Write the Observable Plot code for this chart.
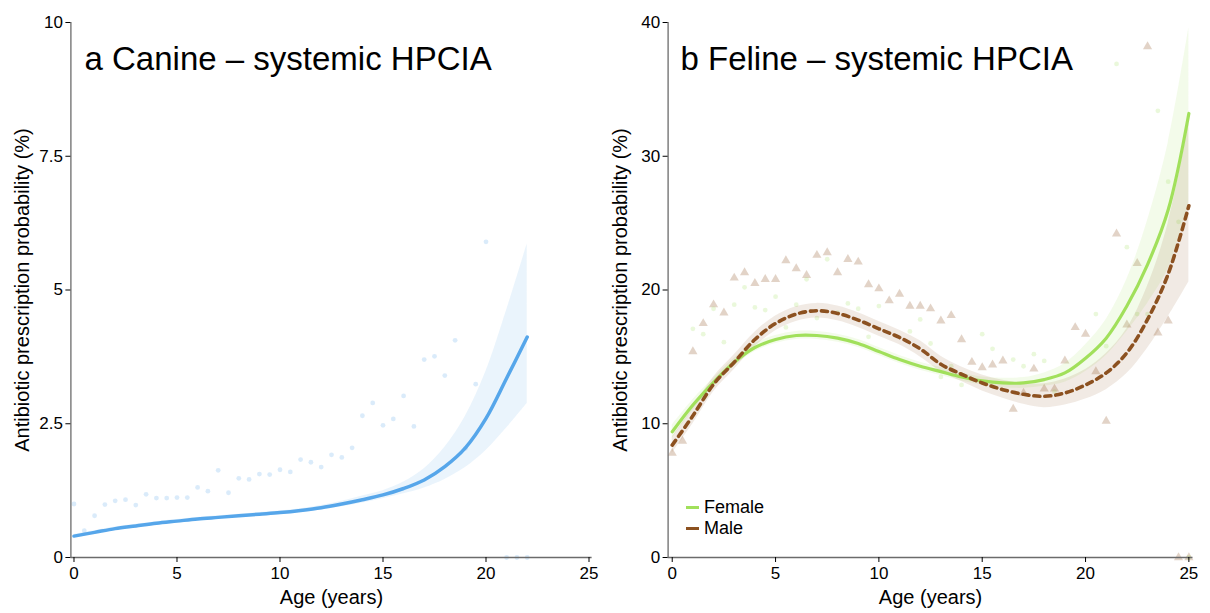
<!DOCTYPE html>
<html><head><meta charset="utf-8">
<script src="https://cdn.jsdelivr.net/npm/d3@7"></script>
<script src="https://cdn.jsdelivr.net/npm/@observablehq/plot@0.6"></script>
<style>
body{margin:0;background:#fff;font-family:"Liberation Sans",Arial,Helvetica,sans-serif;}
#wrap{display:flex;width:1210px;height:613px;position:relative;overflow:hidden}
#wrap svg{display:block}
.legend{position:absolute;left:686px;top:497px;font-size:18px;line-height:21px;color:#000}
.legend div{display:flex;align-items:center;height:21px}
.legend span.sw{display:inline-block;width:13px;height:0;margin-right:5px}
</style></head><body><div id="wrap"></div>
<script>
// ---------- Canine (panel a) ----------
const canineTitle = "a Canine \u2013 systemic HPCIA";
const canineObsAge = [0,0.5,1,1.5,2,2.5,3,3.5,4,4.5,5,5.5,6,6.5,7,7.5,8,8.5,9,9.5,10,10.5,11,11.5,12,12.5,13,13.5,14,14.5,15,15.5,16,16.5,17,17.5,18,18.5,19,19.5,20,21,21.5,22];
const canineObs = [1.00,0.50,0.78,0.99,1.06,1.08,0.98,1.18,1.11,1.11,1.12,1.12,1.31,1.24,1.63,1.21,1.48,1.46,1.56,1.55,1.64,1.60,1.83,1.78,1.69,1.92,1.87,2.05,2.65,2.89,2.47,2.59,3.02,2.45,3.70,3.76,3.40,4.06,2.04,3.24,5.90,0,0,0];
const canineFitAge = [0,1,2,3,4,5,6,7,8,9,10,11,12,13,14,15,16,17,18,19,20,21,22];
const canineFit = [0.40,0.47,0.54,0.59,0.64,0.68,0.72,0.75,0.78,0.81,0.84,0.88,0.93,1.00,1.08,1.17,1.29,1.45,1.70,2.05,2.60,3.35,4.12];
const canineLo  = [0.37,0.44,0.51,0.56,0.61,0.65,0.69,0.72,0.75,0.78,0.81,0.85,0.89,0.95,1.02,1.10,1.19,1.30,1.46,1.68,2.00,2.42,2.88];
const canineHi  = [0.43,0.50,0.57,0.62,0.67,0.71,0.75,0.78,0.81,0.84,0.87,0.91,0.97,1.05,1.15,1.25,1.41,1.66,2.06,2.64,3.48,4.62,5.86];
const canineYTicks = [0,2.5,5,7.5,10];

// ---------- Feline (panel b) ----------
const felineTitle = "b Feline \u2013 systemic HPCIA";
const femaleObsAge = [1,1.5,2,2.5,3,3.5,4,4.5,5,5.5,6,6.5,7,7.5,8,8.5,9,9.5,10,11.5,12,12.5,13,13.5,14,15,15.5,16.5,17,17.5,18,18.5,20.5,21,21.5,22,22.5,23,23.5,24,24.5,25];
const femaleObs = [17.1,16.7,18.6,16.1,18.9,20.2,18.7,18.5,19.5,17.2,18.9,20.8,17.9,22.3,18.3,19.0,18.6,16.5,18.8,16.9,17.8,16.0,13.5,14.3,12.9,16.7,15.6,14.8,14.3,15.2,14.7,12.4,18.2,15.8,36.9,23.2,18.2,18.2,33.4,28.1,25.1,0];
const maleObsAge = [0,0.5,1,1.5,2,2.5,3,3.5,4,4.5,5,5.5,6,6.5,7,7.5,8,8.5,9,9.5,10,10.5,11,11.5,12,12.5,13,13.5,14,14.5,15,15.5,16,16.5,17,17.5,18,18.5,19,19.5,20,20.5,21,21.5,22,22.5,23,23.5,24,24.5,25];
const maleObs = [7.8,8.7,15.4,17.5,18.9,18.3,20.9,21.3,20.5,20.8,20.8,22.2,21.6,21.1,22.6,22.8,21.3,22.3,22.1,20.4,20.1,19.2,19.7,18.8,18.8,18.6,17.7,18.1,16.3,14.6,14.2,14.4,14.7,11.1,12.3,14.1,12.6,12.6,14.7,17.2,16.7,13.9,10.2,24.2,17.4,22.0,38.2,16.8,17.7,0,0];
const felineFitAge = [0,1,2,3,4,5,6,7,8,9,10,11,12,13,14,15,16,17,18,19,20,21,22,23,24,25];
const femaleFit = [9.4,11.4,13.1,14.6,15.7,16.3,16.6,16.6,16.4,16.0,15.4,14.8,14.3,13.9,13.5,13.2,13.05,13.05,13.3,13.8,14.9,16.4,18.8,21.9,26.0,33.2];
const femaleLo  = [8.9,11.0,12.8,14.3,15.4,16.0,16.3,16.3,16.1,15.7,15.1,14.5,14.0,13.6,13.2,12.9,12.7,12.65,12.8,13.1,13.9,15.1,16.9,19.0,21.6,26.5];
const femaleHi  = [9.9,11.8,13.4,14.9,16.0,16.6,16.9,16.9,16.7,16.3,15.7,15.1,14.6,14.2,13.8,13.5,13.4,13.45,13.8,14.5,15.9,17.8,20.8,25.2,31.0,39.6];
const maleFit = [8.4,10.6,12.95,14.6,16.3,17.5,18.2,18.45,18.25,17.75,17.1,16.45,15.6,14.45,13.7,13.05,12.55,12.2,12.05,12.3,12.9,13.8,15.3,17.8,21.2,26.3];
const maleLo  = [7.8,10.0,12.4,14.05,15.75,16.95,17.65,17.9,17.7,17.2,16.55,15.9,15.0,13.9,13.15,12.45,11.9,11.45,11.2,11.4,11.85,12.55,13.75,15.65,18.0,20.6];
const maleHi  = [9.0,11.2,13.5,15.15,16.85,18.05,18.75,19.0,18.8,18.3,17.65,17.0,16.2,15.05,14.25,13.65,13.25,13.0,13.0,13.35,14.05,15.25,17.1,20.3,25.0,32.5];
const felineYTicks = [0,10,20,30,40];

const xTicks = [0,5,10,15,20,25];
const xLabel = "Age (years)";
const yLabel = "Antibiotic prescription probability (%)";
const legendLabels = ["Female","Male"];

const blue = "#56a6ea", green = "#a1e05b", brown = "#8c5120";
const font = "'Liberation Sans', Arial, Helvetica, sans-serif";
const curve = "catmull-rom";

function zipRows(xs, cols) {
  return xs.map((x, i) => { const o = {age: x}; for (const k in cols) o[k] = cols[k][i]; return o; });
}

function frameMarks(xDom, yTicks, title, titleDx) {
  return [
    Plot.ruleX([xDom[0]], {stroke: "#6b6b6b", strokeWidth: 1.3}),
    Plot.ruleY([0], {stroke: "#6b6b6b", strokeWidth: 1.6}),
    Plot.axisY({ticks: yTicks, tickSize: 5, tickPadding: 3, label: null, tickFormat: d => String(d), fontSize: 17, stroke: "#000"}),
    Plot.axisX({ticks: xTicks, tickSize: 5, tickPadding: 4, label: null, tickFormat: d => String(d), fontSize: 17, stroke: "#000"}),
    Plot.text([xLabel], {frameAnchor: "bottom", text: d => d, dy: 40, fontSize: 20, fill: "#000", lineAnchor: "middle"}),
    Plot.text([yLabel], {frameAnchor: "left", text: d => d, rotate: -90, dx: -48, fontSize: 20, fill: "#000", textAnchor: "middle"}),
    Plot.text([title], {frameAnchor: "top-left", text: d => d, textAnchor: "start", lineAnchor: "bottom", dx: titleDx, dy: 47, fontSize: 33, fill: "#000"})
  ];
}

// Panel a
const cObs = zipRows(canineObsAge, {v: canineObs});
const cFit = zipRows(canineFitAge, {v: canineFit, lo: canineLo, hi: canineHi});
const xDomA = [-0.15, 25.15];
const plotA = Plot.plot({
  width: 605, height: 613,
  marginLeft: 70.4, marginRight: 13.4, marginTop: 22, marginBottom: 56,
  x: {domain: xDomA}, y: {domain: [0, 10]},
  style: {fontFamily: font, background: "#fff", color: "#000"},
  marks: [
    Plot.dot(cObs, {x: "age", y: "v", r: 2.4, fill: blue, fillOpacity: 0.22, stroke: null}),
    Plot.areaY(cFit, {x: "age", y1: "lo", y2: "hi", curve, fill: blue, fillOpacity: 0.12}),
    Plot.line(cFit, {x: "age", y: "v", curve, stroke: blue, strokeWidth: 3.5}),
    ...frameMarks(xDomA, canineYTicks, canineTitle, 13.6)
  ]
});

// Panel b
const fObs = zipRows(femaleObsAge, {v: femaleObs});
const mObs = zipRows(maleObsAge, {v: maleObs});
const fFit = zipRows(felineFitAge, {v: femaleFit, lo: femaleLo, hi: femaleHi});
const mFit = zipRows(felineFitAge, {v: maleFit, lo: maleLo, hi: maleHi});
const xDomB = [-0.2, 25.2];
const plotB = Plot.plot({
  width: 605, height: 613,
  marginLeft: 62.6, marginRight: 17.5, marginTop: 22, marginBottom: 56,
  x: {domain: xDomB}, y: {domain: [0, 40]},
  style: {fontFamily: font, background: "#fff", color: "#000"},
  marks: [
    Plot.dot(mObs, {x: "age", y: "v", r: 3.4, symbol: "triangle", fill: brown, fillOpacity: 0.25, stroke: null}),
    Plot.dot(fObs, {x: "age", y: "v", r: 2.4, fill: green, fillOpacity: 0.22, stroke: null}),
    Plot.areaY(fFit, {x: "age", y1: "lo", y2: "hi", curve, fill: green, fillOpacity: 0.13}),
    Plot.areaY(mFit, {x: "age", y1: "lo", y2: "hi", curve, fill: brown, fillOpacity: 0.12}),
    Plot.line(fFit, {x: "age", y: "v", curve, stroke: green, strokeWidth: 3.2}),
    Plot.line(mFit, {x: "age", y: "v", curve, stroke: brown, strokeWidth: 3.6, strokeDasharray: "6,5"}),
    ...frameMarks(xDomB, felineYTicks, felineTitle, 12.4)
  ]
});

const wrap = document.getElementById("wrap");
wrap.append(plotA, plotB);

// legend inside panel b
const leg = document.createElement("div");
leg.className = "legend";
const legColors = [green, brown];
legendLabels.forEach((lab, i) => {
  const row = document.createElement("div");
  const sw = document.createElement("span");
  sw.className = "sw";
  sw.style.borderTop = `3.5px solid ${legColors[i]}`;
  row.append(sw, document.createTextNode(lab));
  leg.append(row);
});
wrap.append(leg);
</script>
</body></html>
